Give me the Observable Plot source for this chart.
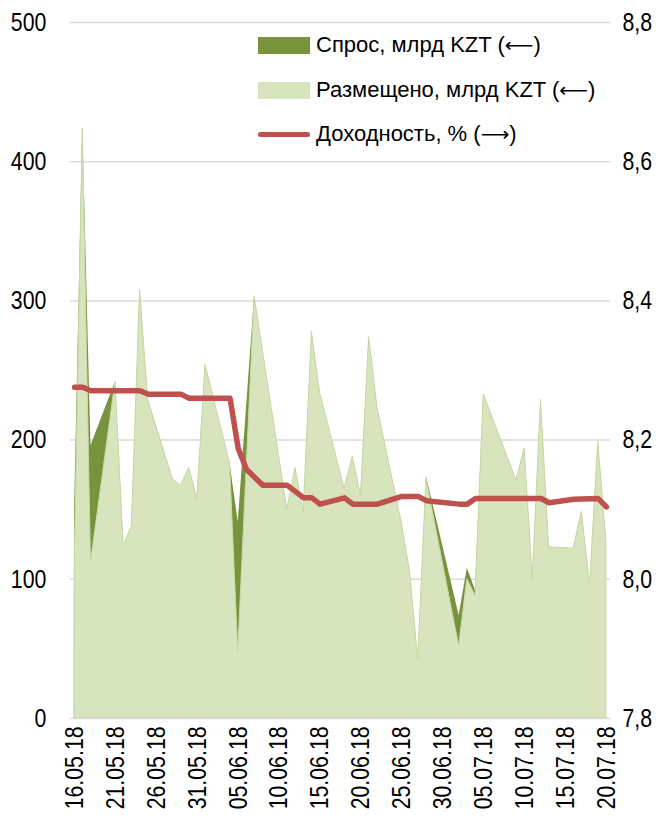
<!DOCTYPE html>
<html><head><meta charset="utf-8">
<script src="https://cdn.jsdelivr.net/npm/d3@7"></script>
<script src="https://cdn.jsdelivr.net/npm/@observablehq/plot@0.6"></script>
<style>
body{margin:0;background:#fff;}
#wrap{position:relative;width:667px;height:821px;}
.leg{position:absolute;left:258px;height:24px;font-family:"Liberation Sans",Arial,sans-serif;font-size:22px;color:#000;display:flex;align-items:center;white-space:nowrap;}
.sw{width:52px;height:17px;margin-right:6px;flex:none;}
.ln{width:52px;height:5px;margin-right:6px;flex:none;border-radius:3px;}
.arr{font-family:"DejaVu Sans",sans-serif;font-size:20px;}
</style></head><body><div id="wrap"></div>
<script>
// ---- data ----
const dates = ["16.05.18","17.05.18","18.05.18","21.05.18","22.05.18","23.05.18","24.05.18","25.05.18",
  "28.05.18","29.05.18","30.05.18","31.05.18","01.06.18","04.06.18","05.06.18","07.06.18",
  "11.06.18","12.06.18","13.06.18","14.06.18","15.06.18","18.06.18","19.06.18","20.06.18","21.06.18","22.06.18",
  "25.06.18","26.06.18","27.06.18","28.06.18","02.07.18","03.07.18","04.07.18","05.07.18",
  "09.07.18","10.07.18","11.07.18","12.07.18","13.07.18","16.07.18","17.07.18","18.07.18","19.07.18","20.07.18"];
const placed = [105,424,112,242,124,138,308,228,
  172,167,180,158,254,183,48,303,
  150,180,148,278,234,165,188,160,274,224,
  140,105,42,172,52,100,88,233,
  171,194,100,229,123,122,148,95,199,127];
const demand = [150,425,196,242,124,138,308,229,
  172,167,180,158,254,183,141,303,
  150,180,148,278,234,165,188,160,274,224,
  140,105,42,174,74,108,92,233,
  171,194,100,229,123,122,149,95,199,127];
const yieldDates = ["16.05.18","17.05.18","18.05.18","21.05.18","24.05.18","25.05.18","29.05.18","30.05.18",
  "04.06.18","05.06.18","06.06.18","08.06.18","11.06.18","13.06.18","14.06.18","15.06.18",
  "18.06.18","19.06.18","22.06.18","25.06.18","27.06.18","28.06.18","02.07.18","03.07.18","04.07.18",
  "12.07.18","13.07.18","16.07.18","19.07.18","20.07.18"];
const yieldValues = [8.276,8.276,8.271,8.271,8.271,8.266,8.266,8.260,
  8.260,8.188,8.158,8.135,8.135,8.117,8.117,8.108,
  8.117,8.108,8.108,8.119,8.119,8.113,8.108,8.108,8.116,
  8.116,8.110,8.115,8.116,8.104];
const tickDates = ["16.05.18","21.05.18","26.05.18","31.05.18","05.06.18","10.06.18","15.06.18",
  "20.06.18","25.06.18","30.06.18","05.07.18","10.07.18","15.07.18","20.07.18"];
const leftTicks = [0,100,200,300,400,500];
const rightTicks = [7.8,8.0,8.2,8.4,8.6,8.8];
const seriesNames = ["Спрос, млрд KZT ", "Размещено, млрд KZT ", "Доходность, % "];
const seriesArrows = ["(⟵)", "(⟵)", "(⟶)"];
const colors = ["#77933C","#D7E4BD","#C0504D"];

// ---- layout ----
const W = 667, H = 821, mL = 70, mR = 57, mT = 22, mB = 103;
const padL = 24, padR = 12, padX = 8, narrow = 0.82;

// ---- build ----
const parse = d3.utcParse("%d.%m.%y");
const rows = dates.map((d,i)=>({date:parse(d), placed:placed[i], demand:demand[i]}));
const rMin = rightTicks[0], rMax = rightTicks[rightTicks.length-1];
const lMax = leftTicks[leftTicks.length-1];
const toLeft = v => (v - rMin) / (rMax - rMin) * lMax;
const yrows = yieldDates.map((d,i)=>({date:parse(d), y:toLeft(yieldValues[i])}));
const half = 12*3600*1000;
const x0 = new Date(parse(dates[0]).getTime()-half);
const x1 = new Date(parse(dates[dates.length-1]).getTime()+half);
const fmtR = v => v.toFixed(1).replace(".", ",");

const chart = Plot.plot({
  width: W, height: H,
  marginLeft: mL, marginRight: mR, marginTop: mT, marginBottom: mB,
  style: {fontFamily: '"Liberation Sans",Arial,sans-serif', fontSize: "26px", color: "#000", background: "#fff"},
  x: {type: "utc", domain: [x0, x1]},
  y: {domain: [0, lMax]},
  marks: [
    Plot.gridY(leftTicks.slice(1), {stroke: "#D9D9D9", strokeOpacity: 1, strokeWidth: 1.5}),
    Plot.areaY(rows, {x: "date", y: "demand", fill: colors[0], curve: "linear"}),
    Plot.areaY(rows, {x: "date", y: "placed", fill: colors[1], stroke: "#C9DAA8", strokeWidth: 1, curve: "linear"}),
    Plot.ruleY([0], {stroke: "#D9D9D9", strokeWidth: 1.5}),
    Plot.line(yrows, {x: "date", y: "y", stroke: colors[2], strokeWidth: 5.5, strokeLinecap: "round", strokeLinejoin: "round"}),
    Plot.axisY({ticks: leftTicks, tickSize: 0, tickPadding: padL, tickFormat: d => String(d)}),
    Plot.axisY({anchor: "right", ticks: leftTicks, tickSize: 0, tickPadding: padR, textAnchor: "start",
      tickFormat: d => fmtR(rightTicks[leftTicks.indexOf(d)])}),
    Plot.axisX({ticks: tickDates.map(parse), tickFormat: d3.utcFormat("%d.%m.%y"), tickRotate: -90, tickSize: 0, tickPadding: padX, fontSize: 26})
  ]
});
// condense tick labels along their reading direction (narrow face look)
function wrapG(g, tf){
  if (!g) return;
  const w = document.createElementNS("http://www.w3.org/2000/svg", "g");
  w.setAttribute("transform", tf);
  g.parentNode.insertBefore(w, g);
  w.appendChild(g);
}
const yl = chart.querySelectorAll('g[aria-label="y-axis tick label"]');
const ax = mL - padL, bx = W - mR + padR, cy = H - mB + padX;
wrapG(yl[0], `translate(${ax},0) scale(${narrow},1) translate(${-ax},0)`);
wrapG(yl[1], `translate(${bx},0) scale(${narrow},1) translate(${-bx},0)`);
wrapG(chart.querySelector('g[aria-label="x-axis tick label"]'), `translate(0,${cy}) scale(1,${narrow}) translate(0,${-cy})`);

const wrap = document.getElementById("wrap");
wrap.appendChild(chart);

// legend
const legTops = [33, 78, 122];
seriesNames.forEach((name,i)=>{
  const row = document.createElement("div");
  row.className = "leg";
  row.style.top = legTops[i] + "px";
  const sw = document.createElement("div");
  sw.className = i < 2 ? "sw" : "ln";
  sw.style.background = colors[i];
  row.appendChild(sw);
  const t = document.createElement("span");
  t.style.whiteSpace = "pre";
  t.textContent = name + seriesArrows[i][0];
  row.appendChild(t);
  const ar = document.createElement("span");
  ar.className = "arr";
  ar.textContent = seriesArrows[i][1];
  row.appendChild(ar);
  const c = document.createElement("span");
  c.textContent = seriesArrows[i][2];
  row.appendChild(c);
  wrap.appendChild(row);
});
</script></body></html>
